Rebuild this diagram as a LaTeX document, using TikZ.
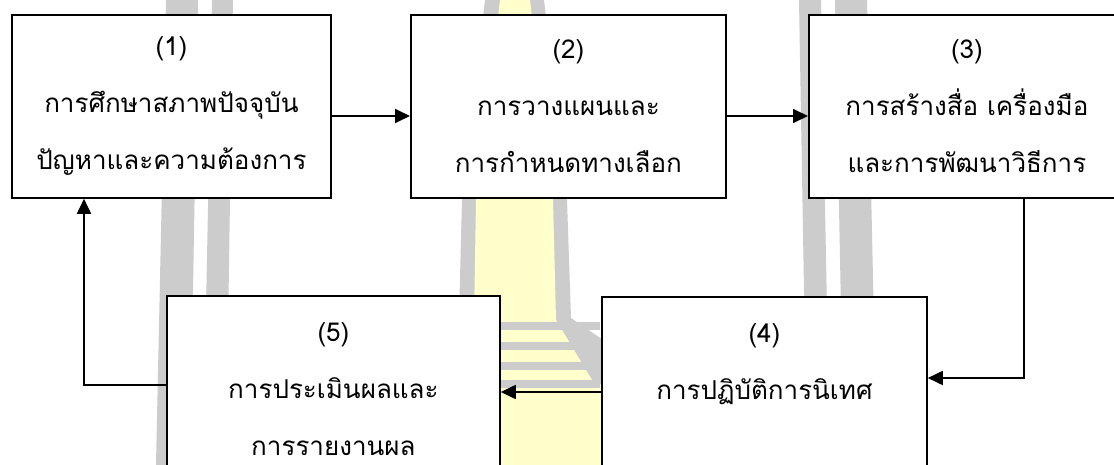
\documentclass[tikz,border=0pt]{standalone}
\usepackage{fontspec}
\newfontfamily\thaifont[Script=Thai]{Loma}
\usetikzlibrary{arrows.meta}
\definecolor{wmgrey}{HTML}{CCCCCC}
\definecolor{wmyellow}{HTML}{FFFFCC}

\begin{document}
\begin{tikzpicture}[x=1pt,y=-1pt,
  box/.style={draw,line width=1.8pt,fill=white,align=center,inner xsep=0pt,
    font=\thaifont\fontsize{26pt}{57pt}\selectfont},
  upbox/.style={box,anchor=north west,minimum height=183pt},
  lowbox/.style={box,anchor=north west,inner ysep=27pt,text depth=150pt},
  link/.style={line width=1.8pt,-{Triangle[length=15pt,width=14pt]}}]
\useasboundingbox (0,0) rectangle (1114,465);
\clip (0,0) rectangle (1114,465);
\fill[white] (0,0) rectangle (1114,465);
\fill[wmgrey] (166,0) -- (198,0) -- (190,465) -- (156,465) -- cycle;
\fill[wmgrey] (212,0) -- (233,0) -- (226,465) -- (203,465) -- cycle;
\fill[wmgrey] (799,0) -- (821,0) -- (830,465) -- (807,465) -- cycle;
\fill[wmgrey] (835,0) -- (867,0) -- (877,465) -- (844,465) -- cycle;
\fill[wmgrey] (485,0) -- (544,0) -- (567,200) -- (571,318) -- (606,342) -- (620,465)
  -- (410,465) -- (424,342) -- (459,318) -- (462,200) -- cycle;
\fill[wmyellow] (500,0) -- (530,0) -- (553,200) -- (556,320) -- (592,380) -- (610,388)
  -- (610,465) -- (420,465) -- (420,388) -- (438,380) -- (474,320) -- (476,200) -- cycle;
\foreach \y in {322,342,362,380}
  \fill[wmgrey] (430,\y) rectangle (600,\y+8);
\node[upbox,minimum width=319pt] (s1) at (11,14) {(1)\\การศึกษาสภาพปัจจุบัน\\ปัญหาและความต้องการ};
\node[upbox,minimum width=315pt] (s2) at (410,14) {(2)\\การวางแผนและ\\การกำหนดทางเลือก};
\node[upbox,minimum width=316pt] (s3) at (808,14) {(3)\\การสร้างสื่อ เครื่องมือ\\และการพัฒนาวิธีการ};
\node[lowbox,minimum width=325pt] (s4) at (601,296) {(4)\\การปฏิบัติการนิเทศ};
\node[lowbox,minimum width=333pt] (s5) at (166,295) {(5)\\การประเมินผลและ\\การรายงานผล};
\draw[link] (s1.east |- 0,116) -- (s2.west |- 0,116);
\draw[link] (s2.east |- 0,116) -- (s3.west |- 0,116);
\draw[link] (s3.south -| 1024,0) |- (s4.east |- 0,378);
\draw[link] (s4.west |- 0,392) -- (s5.east |- 0,392);
\draw[link] (s5.west |- 0,385) -| (s1.south -| 84,0);
\end{tikzpicture}
\end{document}
